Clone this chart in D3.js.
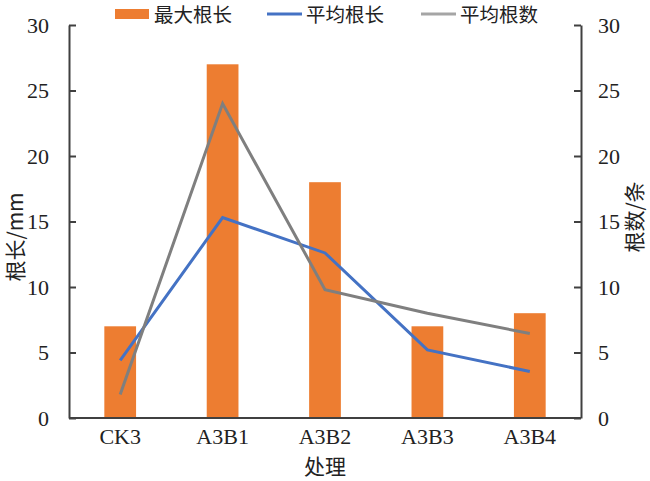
<!DOCTYPE html>
<html><head><meta charset="utf-8">
<script src="https://cdn.jsdelivr.net/npm/d3@7"></script>
<style>body{margin:0;background:#fff}</style>
</head><body>
<svg id="c" width="650" height="481"></svg>
<script>
const categories = ["CK3","A3B1","A3B2","A3B3","A3B4"];
const maxRootLen = [7, 27, 18, 7, 8];
const avgRootLen = [4.4, 15.3, 12.6, 5.2, 3.55];
const avgRootNum = [1.8, 24.0, 9.8, 8.0, 6.45];
const yTicks = [0,5,10,15,20,25,30];
const legendLabels = ["最大根长","平均根长","平均根数"];
const colors = {bar:"#ED7D31", blue:"#4472C4", gray:"#7F7F7F", axis:"#404040"};

const svg = d3.select("#c");
const m = {l:69, r:581, t:25, b:418};
const serif = "'Liberation Serif','Times New Roman',serif";
const cjk = "'Noto Sans CJK SC','Liberation Serif',serif";

const x = d3.scaleBand().domain(categories).range([m.l, m.r]).paddingInner(0.69).paddingOuter(0.345);
const yL = d3.scaleLinear().domain([0,30]).range([m.b, m.t]);
const yR = d3.scaleLinear().domain([0,30]).range([m.b, m.t]);

// bars
svg.append("g").selectAll("rect").data(categories).join("rect")
  .attr("x", d=>x(d)).attr("width", x.bandwidth())
  .attr("y", (d,i)=>yL(maxRootLen[i])).attr("height", (d,i)=>yL(0)-yL(maxRootLen[i]))
  .attr("fill", colors.bar);

const cx = d => x(d) + x.bandwidth()/2;
const lineL = d3.line().x((d,i)=>cx(categories[i])).y(d=>yL(d));
const lineR = d3.line().x((d,i)=>cx(categories[i])).y(d=>yR(d));
svg.append("path").datum(avgRootLen).attr("d", lineL).attr("fill","none")
  .attr("stroke", colors.blue).attr("stroke-width", 3);
svg.append("path").datum(avgRootNum).attr("d", lineR).attr("fill","none")
  .attr("stroke", colors.gray).attr("stroke-width", 3);

// axes
const axL = svg.append("g").attr("transform", `translate(${m.l},0)`)
  .call(d3.axisLeft(yL).tickValues(yTicks).tickSize(-7).tickPadding(20).tickSizeOuter(0));
const axR = svg.append("g").attr("transform", `translate(${m.r},0)`)
  .call(d3.axisRight(yR).tickValues(yTicks).tickSize(-7).tickPadding(17).tickSizeOuter(0));
const axB = svg.append("g").attr("transform", `translate(0,${m.b})`)
  .call(d3.axisBottom(x).tickSize(0).tickPadding(10).tickSizeOuter(0));
[axL, axR, axB].forEach(a=>{
  a.selectAll("path.domain").attr("stroke", colors.axis).attr("stroke-width", 2);
  a.selectAll(".tick line").attr("stroke", colors.axis).attr("stroke-width", 2);
  a.selectAll("text").attr("font-family", serif).attr("font-size", 22).attr("fill", "#222");
});
axB.select("path.domain").attr("d", `M${m.l},0H${m.r}`);

// titles
svg.append("text").attr("transform", "translate(23,237) rotate(-90)")
  .attr("text-anchor","middle").attr("font-family", cjk).attr("font-size", 21).attr("fill","#222").text("根长/mm");
svg.append("text").attr("transform", "translate(642,217) rotate(-90)")
  .attr("text-anchor","middle").attr("font-family", cjk).attr("font-size", 21).attr("fill","#222").text("根数/条");
svg.append("text").attr("x", 325).attr("y", 474)
  .attr("text-anchor","middle").attr("font-family", cjk).attr("font-size", 21).attr("fill","#222").text("处理");

// legend
const lg = svg.append("g");
const lx = [115, 267, 421];
lg.append("rect").attr("x", lx[0]).attr("y", 9).attr("width", 34).attr("height", 10).attr("fill", colors.bar);
lg.append("line").attr("x1", lx[1]).attr("x2", lx[1]+35).attr("y1", 14).attr("y2", 14).attr("stroke", colors.blue).attr("stroke-width", 3);
lg.append("line").attr("x1", lx[2]).attr("x2", lx[2]+35).attr("y1", 14).attr("y2", 14).attr("stroke", "#A5A5A5").attr("stroke-width", 3);
legendLabels.forEach((t,i)=>{
  lg.append("text").attr("x", lx[i]+39).attr("y", 22).attr("font-family", cjk).attr("font-size", 19.5).attr("fill","#222").text(t);
});
</script>
</body></html>
